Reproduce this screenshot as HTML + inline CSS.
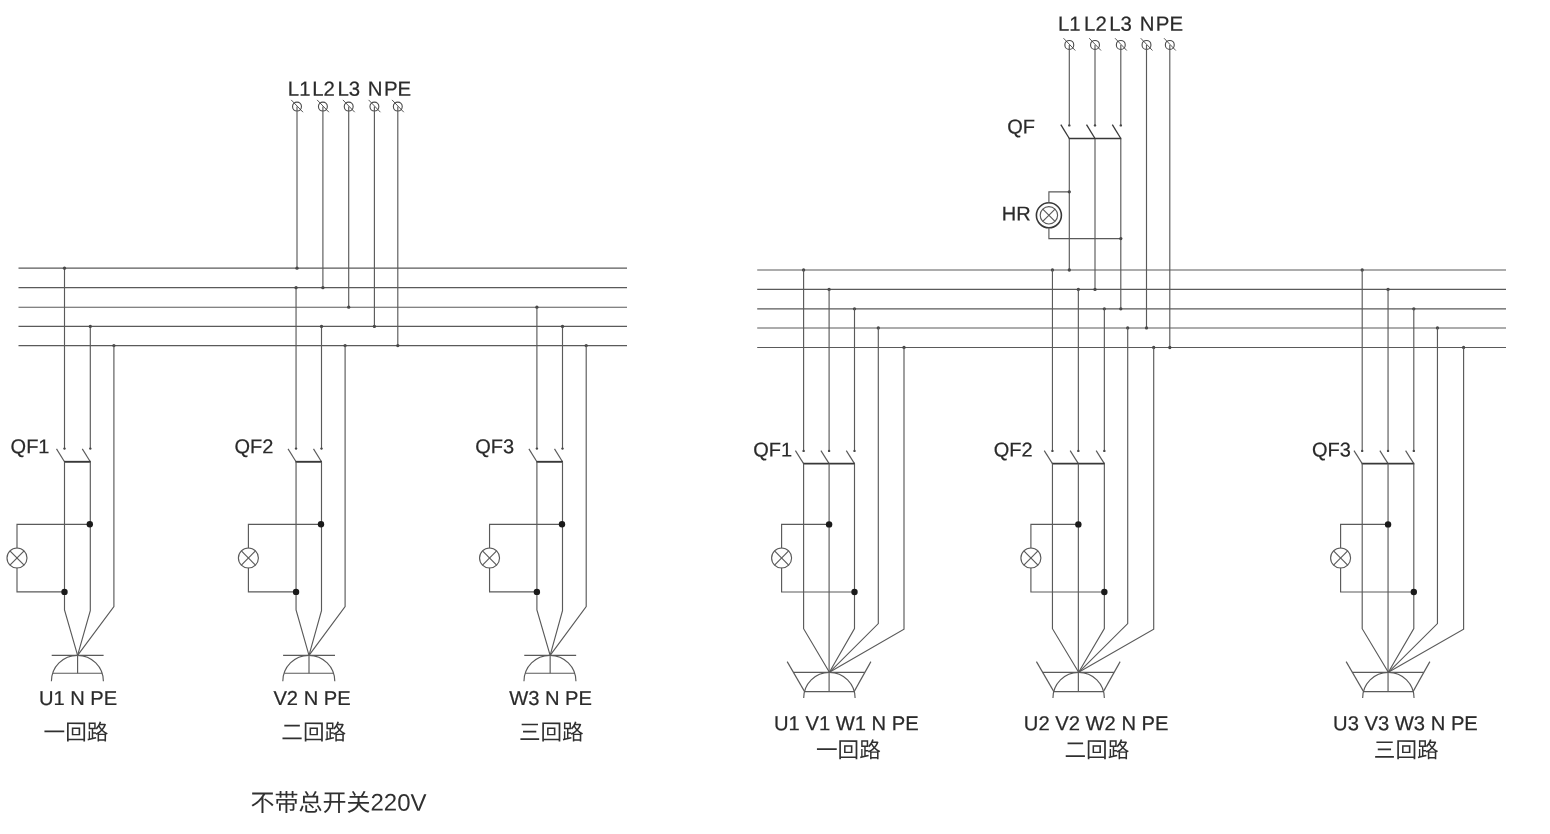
<!DOCTYPE html>
<html lang="zh">
<head>
<meta charset="utf-8">
<title>配电回路接线图</title>
<style>
html,body{margin:0;padding:0;background:#fff;}
body{width:1550px;height:834px;overflow:hidden;font-family:"Liberation Sans","Noto Sans CJK SC",sans-serif;}
svg{display:block;will-change:transform;filter:grayscale(1);}
</style>
</head>
<body>
<svg width="1550" height="834" viewBox="0 0 1550 834">
<rect x="0" y="0" width="1550" height="834" fill="#ffffff"/>
<line x1="18.50" y1="268.15" x2="627.00" y2="268.15" stroke="#5a5a5a" stroke-width="1.15"/>
<line x1="18.50" y1="287.65" x2="627.00" y2="287.65" stroke="#5a5a5a" stroke-width="1.15"/>
<line x1="18.50" y1="307.20" x2="627.00" y2="307.20" stroke="#5a5a5a" stroke-width="1.15"/>
<line x1="18.50" y1="326.40" x2="627.00" y2="326.40" stroke="#5a5a5a" stroke-width="1.15"/>
<line x1="18.50" y1="345.60" x2="627.00" y2="345.60" stroke="#5a5a5a" stroke-width="1.15"/>
<circle cx="297.00" cy="106.60" r="4.45" fill="none" stroke="#4a4a4a" stroke-width="1.1"/>
<line x1="291.20" y1="99.90" x2="303.00" y2="112.20" stroke="#3a3a3a" stroke-width="0.85"/>
<line x1="297.00" y1="106.60" x2="297.00" y2="268.15" stroke="#5a5a5a" stroke-width="1.15"/>
<circle cx="297.00" cy="268.15" r="1.65" fill="#484848"/>
<circle cx="322.90" cy="106.60" r="4.45" fill="none" stroke="#4a4a4a" stroke-width="1.1"/>
<line x1="317.10" y1="99.90" x2="328.90" y2="112.20" stroke="#3a3a3a" stroke-width="0.85"/>
<line x1="322.90" y1="106.60" x2="322.90" y2="287.65" stroke="#5a5a5a" stroke-width="1.15"/>
<circle cx="322.90" cy="287.65" r="1.65" fill="#484848"/>
<circle cx="348.70" cy="106.60" r="4.45" fill="none" stroke="#4a4a4a" stroke-width="1.1"/>
<line x1="342.90" y1="99.90" x2="354.70" y2="112.20" stroke="#3a3a3a" stroke-width="0.85"/>
<line x1="348.70" y1="106.60" x2="348.70" y2="307.20" stroke="#5a5a5a" stroke-width="1.15"/>
<circle cx="348.70" cy="307.20" r="1.65" fill="#484848"/>
<circle cx="374.40" cy="106.60" r="4.45" fill="none" stroke="#4a4a4a" stroke-width="1.1"/>
<line x1="368.60" y1="99.90" x2="380.40" y2="112.20" stroke="#3a3a3a" stroke-width="0.85"/>
<line x1="374.40" y1="106.60" x2="374.40" y2="326.40" stroke="#5a5a5a" stroke-width="1.15"/>
<circle cx="374.40" cy="326.40" r="1.65" fill="#484848"/>
<circle cx="397.80" cy="106.60" r="4.45" fill="none" stroke="#4a4a4a" stroke-width="1.1"/>
<line x1="392.00" y1="99.90" x2="403.80" y2="112.20" stroke="#3a3a3a" stroke-width="0.85"/>
<line x1="397.80" y1="106.60" x2="397.80" y2="345.60" stroke="#5a5a5a" stroke-width="1.15"/>
<circle cx="397.80" cy="345.60" r="1.65" fill="#484848"/>
<text transform="rotate(0.03 307.8 95.75)" x="287.80" y="95.75" font-size="20.4" text-anchor="start" fill="#2a2a2a" stroke="#2a2a2a" stroke-width="0.22" font-family="&quot;Liberation Sans&quot;, &quot;Noto Sans CJK SC&quot;, sans-serif">L1</text>
<text transform="rotate(0.03 332.2 95.75)" x="312.20" y="95.75" font-size="20.4" text-anchor="start" fill="#2a2a2a" stroke="#2a2a2a" stroke-width="0.22" font-family="&quot;Liberation Sans&quot;, &quot;Noto Sans CJK SC&quot;, sans-serif">L2</text>
<text transform="rotate(0.03 357.5 95.75)" x="337.50" y="95.75" font-size="20.4" text-anchor="start" fill="#2a2a2a" stroke="#2a2a2a" stroke-width="0.22" font-family="&quot;Liberation Sans&quot;, &quot;Noto Sans CJK SC&quot;, sans-serif">L3</text>
<text transform="rotate(0.03 387.7 95.75)" x="367.70" y="95.75" font-size="20.4" text-anchor="start" fill="#2a2a2a" stroke="#2a2a2a" stroke-width="0.22" font-family="&quot;Liberation Sans&quot;, &quot;Noto Sans CJK SC&quot;, sans-serif">N</text>
<text transform="rotate(0.03 403.9 95.75)" x="383.90" y="95.75" font-size="20.4" text-anchor="start" fill="#2a2a2a" stroke="#2a2a2a" stroke-width="0.22" font-family="&quot;Liberation Sans&quot;, &quot;Noto Sans CJK SC&quot;, sans-serif">PE</text>
<line x1="64.50" y1="268.15" x2="64.50" y2="449.10" stroke="#5a5a5a" stroke-width="1.15"/>
<circle cx="64.50" cy="268.15" r="1.65" fill="#484848"/>
<circle cx="64.50" cy="448.60" r="1.2" fill="#484848"/>
<line x1="90.30" y1="326.40" x2="90.30" y2="449.10" stroke="#5a5a5a" stroke-width="1.15"/>
<circle cx="90.30" cy="326.40" r="1.65" fill="#484848"/>
<circle cx="90.30" cy="448.60" r="1.2" fill="#484848"/>
<circle cx="113.90" cy="345.60" r="1.65" fill="#484848"/>
<polyline points="113.90,345.60 113.90,606.50 77.60,655.30" fill="none" stroke="#5a5a5a" stroke-width="1.15" stroke-linejoin="miter"/>
<line x1="56.50" y1="448.90" x2="64.50" y2="461.80" stroke="#5a5a5a" stroke-width="1.15"/>
<line x1="82.30" y1="448.90" x2="90.30" y2="461.80" stroke="#5a5a5a" stroke-width="1.15"/>
<line x1="64.00" y1="461.80" x2="90.80" y2="461.80" stroke="#383838" stroke-width="1.9"/>
<polyline points="64.50,461.80 64.50,609.90 77.60,655.30" fill="none" stroke="#5a5a5a" stroke-width="1.15" stroke-linejoin="miter"/>
<polyline points="90.30,461.80 90.30,610.60 77.60,655.30" fill="none" stroke="#5a5a5a" stroke-width="1.15" stroke-linejoin="miter"/>
<circle cx="17.00" cy="558.00" r="10.0" fill="none" stroke="#5a5a5a" stroke-width="1.15"/>
<line x1="9.93" y1="550.93" x2="24.07" y2="565.07" stroke="#5a5a5a" stroke-width="1.15"/>
<line x1="9.93" y1="565.07" x2="24.07" y2="550.93" stroke="#5a5a5a" stroke-width="1.15"/>
<polyline points="17.00,548.20 17.00,524.30 90.30,524.30" fill="none" stroke="#5a5a5a" stroke-width="1.15" stroke-linejoin="miter"/>
<polyline points="17.00,567.80 17.00,591.90 64.50,591.90" fill="none" stroke="#5a5a5a" stroke-width="1.15" stroke-linejoin="miter"/>
<circle cx="89.80" cy="524.30" r="3.2" fill="#1a1a1a"/>
<circle cx="64.50" cy="591.90" r="3.2" fill="#1a1a1a"/>
<line x1="51.70" y1="655.30" x2="103.60" y2="655.30" stroke="#5a5a5a" stroke-width="1.15"/>
<path d="M51.40,681.30 A26.0,26.0 0 0 1 103.40,681.30" fill="none" stroke="#5a5a5a" stroke-width="1.15"/>
<line x1="52.89" y1="673.20" x2="102.31" y2="673.20" stroke="#5a5a5a" stroke-width="1.15"/>
<line x1="77.60" y1="655.30" x2="77.60" y2="673.20" stroke="#5a5a5a" stroke-width="1.15"/>
<text transform="rotate(0.03 30.6 453.30)" x="10.60" y="453.30" font-size="20" text-anchor="start" fill="#2a2a2a" stroke="#2a2a2a" stroke-width="0.22" font-family="&quot;Liberation Sans&quot;, &quot;Noto Sans CJK SC&quot;, sans-serif">QF1</text>
<text transform="rotate(0.03 58.9 704.90)" x="38.90" y="704.90" font-size="20.15" text-anchor="start" fill="#2a2a2a" stroke="#2a2a2a" stroke-width="0.22" font-family="&quot;Liberation Sans&quot;, &quot;Noto Sans CJK SC&quot;, sans-serif">U1 N PE</text>
<text transform="translate(76.00 739.80) rotate(0.03) scale(1 1.0)" x="0" y="0" font-size="21.6" text-anchor="middle" fill="#303030" font-family="&quot;Liberation Sans&quot;, &quot;Noto Sans CJK SC&quot;, sans-serif">一回路</text>
<line x1="296.05" y1="287.65" x2="296.05" y2="449.10" stroke="#5a5a5a" stroke-width="1.15"/>
<circle cx="296.05" cy="287.65" r="1.65" fill="#484848"/>
<circle cx="296.05" cy="448.60" r="1.2" fill="#484848"/>
<line x1="321.50" y1="326.40" x2="321.50" y2="449.10" stroke="#5a5a5a" stroke-width="1.15"/>
<circle cx="321.50" cy="326.40" r="1.65" fill="#484848"/>
<circle cx="321.50" cy="448.60" r="1.2" fill="#484848"/>
<circle cx="345.10" cy="345.60" r="1.65" fill="#484848"/>
<polyline points="345.10,345.60 345.10,606.50 309.00,655.30" fill="none" stroke="#5a5a5a" stroke-width="1.15" stroke-linejoin="miter"/>
<line x1="288.05" y1="448.90" x2="296.05" y2="461.80" stroke="#5a5a5a" stroke-width="1.15"/>
<line x1="313.50" y1="448.90" x2="321.50" y2="461.80" stroke="#5a5a5a" stroke-width="1.15"/>
<line x1="295.55" y1="461.80" x2="322.00" y2="461.80" stroke="#383838" stroke-width="1.9"/>
<polyline points="296.05,461.80 296.05,609.90 309.00,655.30" fill="none" stroke="#5a5a5a" stroke-width="1.15" stroke-linejoin="miter"/>
<polyline points="321.50,461.80 321.50,610.60 309.00,655.30" fill="none" stroke="#5a5a5a" stroke-width="1.15" stroke-linejoin="miter"/>
<circle cx="248.40" cy="558.00" r="10.0" fill="none" stroke="#5a5a5a" stroke-width="1.15"/>
<line x1="241.33" y1="550.93" x2="255.47" y2="565.07" stroke="#5a5a5a" stroke-width="1.15"/>
<line x1="241.33" y1="565.07" x2="255.47" y2="550.93" stroke="#5a5a5a" stroke-width="1.15"/>
<polyline points="248.40,548.20 248.40,524.30 321.50,524.30" fill="none" stroke="#5a5a5a" stroke-width="1.15" stroke-linejoin="miter"/>
<polyline points="248.40,567.80 248.40,591.90 296.05,591.90" fill="none" stroke="#5a5a5a" stroke-width="1.15" stroke-linejoin="miter"/>
<circle cx="321.00" cy="524.30" r="3.2" fill="#1a1a1a"/>
<circle cx="296.05" cy="591.90" r="3.2" fill="#1a1a1a"/>
<line x1="283.10" y1="655.30" x2="335.00" y2="655.30" stroke="#5a5a5a" stroke-width="1.15"/>
<path d="M282.80,681.30 A26.0,26.0 0 0 1 334.80,681.30" fill="none" stroke="#5a5a5a" stroke-width="1.15"/>
<line x1="284.29" y1="673.20" x2="333.71" y2="673.20" stroke="#5a5a5a" stroke-width="1.15"/>
<line x1="309.00" y1="655.30" x2="309.00" y2="673.20" stroke="#5a5a5a" stroke-width="1.15"/>
<text transform="rotate(0.03 254.4 453.30)" x="234.40" y="453.30" font-size="20" text-anchor="start" fill="#2a2a2a" stroke="#2a2a2a" stroke-width="0.22" font-family="&quot;Liberation Sans&quot;, &quot;Noto Sans CJK SC&quot;, sans-serif">QF2</text>
<text transform="rotate(0.03 293.4 704.90)" x="273.45" y="704.90" font-size="20.15" text-anchor="start" fill="#2a2a2a" stroke="#2a2a2a" stroke-width="0.22" font-family="&quot;Liberation Sans&quot;, &quot;Noto Sans CJK SC&quot;, sans-serif">V2 N PE</text>
<text transform="translate(313.70 739.80) rotate(0.03) scale(1 1.0)" x="0" y="0" font-size="21.6" text-anchor="middle" fill="#303030" font-family="&quot;Liberation Sans&quot;, &quot;Noto Sans CJK SC&quot;, sans-serif">二回路</text>
<line x1="536.90" y1="307.20" x2="536.90" y2="449.10" stroke="#5a5a5a" stroke-width="1.15"/>
<circle cx="536.90" cy="307.20" r="1.65" fill="#484848"/>
<circle cx="536.90" cy="448.60" r="1.2" fill="#484848"/>
<line x1="562.50" y1="326.40" x2="562.50" y2="449.10" stroke="#5a5a5a" stroke-width="1.15"/>
<circle cx="562.50" cy="326.40" r="1.65" fill="#484848"/>
<circle cx="562.50" cy="448.60" r="1.2" fill="#484848"/>
<circle cx="586.20" cy="345.60" r="1.65" fill="#484848"/>
<polyline points="586.20,345.60 586.20,606.50 550.15,655.30" fill="none" stroke="#5a5a5a" stroke-width="1.15" stroke-linejoin="miter"/>
<line x1="528.90" y1="448.90" x2="536.90" y2="461.80" stroke="#5a5a5a" stroke-width="1.15"/>
<line x1="554.50" y1="448.90" x2="562.50" y2="461.80" stroke="#5a5a5a" stroke-width="1.15"/>
<line x1="536.40" y1="461.80" x2="563.00" y2="461.80" stroke="#383838" stroke-width="1.9"/>
<polyline points="536.90,461.80 536.90,609.90 550.15,655.30" fill="none" stroke="#5a5a5a" stroke-width="1.15" stroke-linejoin="miter"/>
<polyline points="562.50,461.80 562.50,610.60 550.15,655.30" fill="none" stroke="#5a5a5a" stroke-width="1.15" stroke-linejoin="miter"/>
<circle cx="489.55" cy="558.00" r="10.0" fill="none" stroke="#5a5a5a" stroke-width="1.15"/>
<line x1="482.48" y1="550.93" x2="496.62" y2="565.07" stroke="#5a5a5a" stroke-width="1.15"/>
<line x1="482.48" y1="565.07" x2="496.62" y2="550.93" stroke="#5a5a5a" stroke-width="1.15"/>
<polyline points="489.55,548.20 489.55,524.30 562.50,524.30" fill="none" stroke="#5a5a5a" stroke-width="1.15" stroke-linejoin="miter"/>
<polyline points="489.55,567.80 489.55,591.90 536.90,591.90" fill="none" stroke="#5a5a5a" stroke-width="1.15" stroke-linejoin="miter"/>
<circle cx="562.00" cy="524.30" r="3.2" fill="#1a1a1a"/>
<circle cx="536.90" cy="591.90" r="3.2" fill="#1a1a1a"/>
<line x1="524.25" y1="655.30" x2="576.15" y2="655.30" stroke="#5a5a5a" stroke-width="1.15"/>
<path d="M523.95,681.30 A26.0,26.0 0 0 1 575.95,681.30" fill="none" stroke="#5a5a5a" stroke-width="1.15"/>
<line x1="525.44" y1="673.20" x2="574.86" y2="673.20" stroke="#5a5a5a" stroke-width="1.15"/>
<line x1="550.15" y1="655.30" x2="550.15" y2="673.20" stroke="#5a5a5a" stroke-width="1.15"/>
<text transform="rotate(0.03 495.3 453.30)" x="475.30" y="453.30" font-size="20" text-anchor="start" fill="#2a2a2a" stroke="#2a2a2a" stroke-width="0.22" font-family="&quot;Liberation Sans&quot;, &quot;Noto Sans CJK SC&quot;, sans-serif">QF3</text>
<text transform="rotate(0.03 529.1 704.90)" x="509.15" y="704.90" font-size="20.15" text-anchor="start" fill="#2a2a2a" stroke="#2a2a2a" stroke-width="0.22" font-family="&quot;Liberation Sans&quot;, &quot;Noto Sans CJK SC&quot;, sans-serif">W3 N PE</text>
<text transform="translate(551.30 739.80) rotate(0.03) scale(1 1.0)" x="0" y="0" font-size="21.6" text-anchor="middle" fill="#303030" font-family="&quot;Liberation Sans&quot;, &quot;Noto Sans CJK SC&quot;, sans-serif">三回路</text>
<text transform="translate(338.50 810.60) rotate(0.03) scale(1 1.0)" x="0" y="0" font-size="24" text-anchor="middle" fill="#303030" font-family="&quot;Liberation Sans&quot;, &quot;Noto Sans CJK SC&quot;, sans-serif"><tspan dy="0.5">不带总开关</tspan><tspan dy="-0.5">220V</tspan></text>
<line x1="757.20" y1="270.00" x2="1506.00" y2="270.00" stroke="#5a5a5a" stroke-width="1.15"/>
<line x1="757.20" y1="289.40" x2="1506.00" y2="289.40" stroke="#5a5a5a" stroke-width="1.15"/>
<line x1="757.20" y1="308.80" x2="1506.00" y2="308.80" stroke="#5a5a5a" stroke-width="1.15"/>
<line x1="757.20" y1="327.95" x2="1506.00" y2="327.95" stroke="#5a5a5a" stroke-width="1.15"/>
<line x1="757.20" y1="347.50" x2="1506.00" y2="347.50" stroke="#5a5a5a" stroke-width="1.15"/>
<circle cx="1069.30" cy="44.90" r="4.45" fill="none" stroke="#4a4a4a" stroke-width="1.1"/>
<line x1="1063.50" y1="38.20" x2="1075.30" y2="50.50" stroke="#3a3a3a" stroke-width="0.85"/>
<line x1="1069.30" y1="44.90" x2="1069.30" y2="125.90" stroke="#5a5a5a" stroke-width="1.15"/>
<circle cx="1069.30" cy="125.40" r="1.2" fill="#484848"/>
<line x1="1060.80" y1="124.60" x2="1069.30" y2="138.50" stroke="#383838" stroke-width="1.3"/>
<line x1="1069.30" y1="138.50" x2="1069.30" y2="270.00" stroke="#5a5a5a" stroke-width="1.15"/>
<circle cx="1069.30" cy="270.00" r="1.65" fill="#484848"/>
<circle cx="1095.00" cy="44.90" r="4.45" fill="none" stroke="#4a4a4a" stroke-width="1.1"/>
<line x1="1089.20" y1="38.20" x2="1101.00" y2="50.50" stroke="#3a3a3a" stroke-width="0.85"/>
<line x1="1095.00" y1="44.90" x2="1095.00" y2="125.90" stroke="#5a5a5a" stroke-width="1.15"/>
<circle cx="1095.00" cy="125.40" r="1.2" fill="#484848"/>
<line x1="1086.50" y1="124.60" x2="1095.00" y2="138.50" stroke="#383838" stroke-width="1.3"/>
<line x1="1095.00" y1="138.50" x2="1095.00" y2="289.40" stroke="#5a5a5a" stroke-width="1.15"/>
<circle cx="1095.00" cy="289.40" r="1.65" fill="#484848"/>
<circle cx="1120.80" cy="44.90" r="4.45" fill="none" stroke="#4a4a4a" stroke-width="1.1"/>
<line x1="1115.00" y1="38.20" x2="1126.80" y2="50.50" stroke="#3a3a3a" stroke-width="0.85"/>
<line x1="1120.80" y1="44.90" x2="1120.80" y2="125.90" stroke="#5a5a5a" stroke-width="1.15"/>
<circle cx="1120.80" cy="125.40" r="1.2" fill="#484848"/>
<line x1="1112.30" y1="124.60" x2="1120.80" y2="138.50" stroke="#383838" stroke-width="1.3"/>
<line x1="1120.80" y1="138.50" x2="1120.80" y2="308.80" stroke="#5a5a5a" stroke-width="1.15"/>
<circle cx="1120.80" cy="308.80" r="1.65" fill="#484848"/>
<circle cx="1146.50" cy="44.90" r="4.45" fill="none" stroke="#4a4a4a" stroke-width="1.1"/>
<line x1="1140.70" y1="38.20" x2="1152.50" y2="50.50" stroke="#3a3a3a" stroke-width="0.85"/>
<line x1="1146.50" y1="44.90" x2="1146.50" y2="327.95" stroke="#5a5a5a" stroke-width="1.15"/>
<circle cx="1146.50" cy="327.95" r="1.65" fill="#484848"/>
<circle cx="1169.80" cy="44.90" r="4.45" fill="none" stroke="#4a4a4a" stroke-width="1.1"/>
<line x1="1164.00" y1="38.20" x2="1175.80" y2="50.50" stroke="#3a3a3a" stroke-width="0.85"/>
<line x1="1169.80" y1="44.90" x2="1169.80" y2="347.50" stroke="#5a5a5a" stroke-width="1.15"/>
<circle cx="1169.80" cy="347.50" r="1.65" fill="#484848"/>
<line x1="1068.80" y1="138.50" x2="1121.30" y2="138.50" stroke="#383838" stroke-width="1.3"/>
<text transform="rotate(0.03 1078.0 30.70)" x="1057.95" y="30.70" font-size="20.4" text-anchor="start" fill="#2a2a2a" stroke="#2a2a2a" stroke-width="0.22" font-family="&quot;Liberation Sans&quot;, &quot;Noto Sans CJK SC&quot;, sans-serif">L1</text>
<text transform="rotate(0.03 1104.0 30.70)" x="1084.05" y="30.70" font-size="20.4" text-anchor="start" fill="#2a2a2a" stroke="#2a2a2a" stroke-width="0.22" font-family="&quot;Liberation Sans&quot;, &quot;Noto Sans CJK SC&quot;, sans-serif">L2</text>
<text transform="rotate(0.03 1129.2 30.70)" x="1109.15" y="30.70" font-size="20.4" text-anchor="start" fill="#2a2a2a" stroke="#2a2a2a" stroke-width="0.22" font-family="&quot;Liberation Sans&quot;, &quot;Noto Sans CJK SC&quot;, sans-serif">L3</text>
<text transform="rotate(0.03 1159.8 30.70)" x="1139.75" y="30.70" font-size="20.4" text-anchor="start" fill="#2a2a2a" stroke="#2a2a2a" stroke-width="0.22" font-family="&quot;Liberation Sans&quot;, &quot;Noto Sans CJK SC&quot;, sans-serif">N</text>
<text transform="rotate(0.03 1175.8 30.70)" x="1155.85" y="30.70" font-size="20.4" text-anchor="start" fill="#2a2a2a" stroke="#2a2a2a" stroke-width="0.22" font-family="&quot;Liberation Sans&quot;, &quot;Noto Sans CJK SC&quot;, sans-serif">PE</text>
<text transform="rotate(0.03 1027.2 133.60)" x="1007.20" y="133.60" font-size="20" text-anchor="start" fill="#2a2a2a" stroke="#2a2a2a" stroke-width="0.22" font-family="&quot;Liberation Sans&quot;, &quot;Noto Sans CJK SC&quot;, sans-serif">QF</text>
<text transform="rotate(0.03 1021.7 220.60)" x="1001.70" y="220.60" font-size="20" text-anchor="start" fill="#2a2a2a" stroke="#2a2a2a" stroke-width="0.22" font-family="&quot;Liberation Sans&quot;, &quot;Noto Sans CJK SC&quot;, sans-serif">HR</text>
<circle cx="1048.90" cy="215.30" r="12.5" fill="none" stroke="#383838" stroke-width="1.6"/>
<circle cx="1048.90" cy="215.30" r="8.7" fill="none" stroke="#5a5a5a" stroke-width="1.15"/>
<line x1="1042.75" y1="209.15" x2="1055.05" y2="221.45" stroke="#5a5a5a" stroke-width="1.15"/>
<line x1="1042.75" y1="221.45" x2="1055.05" y2="209.15" stroke="#5a5a5a" stroke-width="1.15"/>
<polyline points="1048.90,203.00 1048.90,191.80 1069.30,191.80" fill="none" stroke="#5a5a5a" stroke-width="1.15" stroke-linejoin="miter"/>
<circle cx="1069.30" cy="191.80" r="1.65" fill="#484848"/>
<polyline points="1048.90,227.60 1048.90,238.60 1120.80,238.60" fill="none" stroke="#5a5a5a" stroke-width="1.15" stroke-linejoin="miter"/>
<circle cx="1120.80" cy="238.60" r="1.65" fill="#484848"/>
<circle cx="803.60" cy="270.00" r="1.65" fill="#484848"/>
<circle cx="829.10" cy="289.40" r="1.65" fill="#484848"/>
<circle cx="854.50" cy="308.80" r="1.65" fill="#484848"/>
<circle cx="878.30" cy="327.95" r="1.65" fill="#484848"/>
<circle cx="904.00" cy="347.50" r="1.65" fill="#484848"/>
<line x1="803.60" y1="270.00" x2="803.60" y2="451.40" stroke="#5a5a5a" stroke-width="1.15"/>
<circle cx="803.60" cy="450.90" r="1.2" fill="#484848"/>
<line x1="795.40" y1="450.60" x2="803.60" y2="463.60" stroke="#5a5a5a" stroke-width="1.15"/>
<line x1="829.10" y1="289.40" x2="829.10" y2="451.40" stroke="#5a5a5a" stroke-width="1.15"/>
<circle cx="829.10" cy="450.90" r="1.2" fill="#484848"/>
<line x1="820.90" y1="450.60" x2="829.10" y2="463.60" stroke="#5a5a5a" stroke-width="1.15"/>
<line x1="854.50" y1="308.80" x2="854.50" y2="451.40" stroke="#5a5a5a" stroke-width="1.15"/>
<circle cx="854.50" cy="450.90" r="1.2" fill="#484848"/>
<line x1="846.30" y1="450.60" x2="854.50" y2="463.60" stroke="#5a5a5a" stroke-width="1.15"/>
<line x1="803.10" y1="463.60" x2="855.00" y2="463.60" stroke="#383838" stroke-width="1.9"/>
<polyline points="803.60,463.60 803.60,628.70 829.40,672.30" fill="none" stroke="#5a5a5a" stroke-width="1.15" stroke-linejoin="miter"/>
<line x1="829.10" y1="463.60" x2="829.10" y2="691.60" stroke="#5a5a5a" stroke-width="1.15"/>
<polyline points="854.50,463.60 854.50,628.50 829.40,672.30" fill="none" stroke="#5a5a5a" stroke-width="1.15" stroke-linejoin="miter"/>
<polyline points="878.30,327.95 878.30,623.60 829.40,672.30" fill="none" stroke="#5a5a5a" stroke-width="1.15" stroke-linejoin="miter"/>
<polyline points="904.00,347.50 904.00,629.20 829.40,672.30" fill="none" stroke="#5a5a5a" stroke-width="1.15" stroke-linejoin="miter"/>
<circle cx="781.60" cy="558.00" r="10.0" fill="none" stroke="#5a5a5a" stroke-width="1.15"/>
<line x1="774.53" y1="550.93" x2="788.67" y2="565.07" stroke="#5a5a5a" stroke-width="1.15"/>
<line x1="774.53" y1="565.07" x2="788.67" y2="550.93" stroke="#5a5a5a" stroke-width="1.15"/>
<polyline points="781.60,548.20 781.60,524.40 829.10,524.40" fill="none" stroke="#5a5a5a" stroke-width="1.15" stroke-linejoin="miter"/>
<polyline points="781.60,567.80 781.60,592.00 854.50,592.00" fill="none" stroke="#5a5a5a" stroke-width="1.15" stroke-linejoin="miter"/>
<circle cx="829.10" cy="524.40" r="3.2" fill="#1a1a1a"/>
<circle cx="854.50" cy="592.00" r="3.2" fill="#1a1a1a"/>
<line x1="793.40" y1="672.30" x2="864.70" y2="672.30" stroke="#5a5a5a" stroke-width="1.15"/>
<path d="M803.70,698.00 A25.7,25.7 0 0 1 855.10,698.00" fill="none" stroke="#5a5a5a" stroke-width="1.15"/>
<line x1="804.51" y1="691.60" x2="854.29" y2="691.60" stroke="#5a5a5a" stroke-width="1.15"/>
<line x1="787.20" y1="661.60" x2="804.60" y2="691.60" stroke="#5a5a5a" stroke-width="1.15"/>
<line x1="870.90" y1="661.60" x2="854.10" y2="691.60" stroke="#5a5a5a" stroke-width="1.15"/>
<text transform="rotate(0.03 773.2 456.60)" x="753.20" y="456.60" font-size="20" text-anchor="start" fill="#2a2a2a" stroke="#2a2a2a" stroke-width="0.22" font-family="&quot;Liberation Sans&quot;, &quot;Noto Sans CJK SC&quot;, sans-serif">QF1</text>
<text transform="rotate(0.03 794.0 730.20)" x="774.00" y="730.20" font-size="20.2" text-anchor="start" fill="#2a2a2a" stroke="#2a2a2a" stroke-width="0.22" font-family="&quot;Liberation Sans&quot;, &quot;Noto Sans CJK SC&quot;, sans-serif">U1 V1 W1 N PE</text>
<text transform="translate(848.40 757.50) rotate(0.03) scale(1 1.0)" x="0" y="0" font-size="21.6" text-anchor="middle" fill="#303030" font-family="&quot;Liberation Sans&quot;, &quot;Noto Sans CJK SC&quot;, sans-serif">一回路</text>
<circle cx="1052.45" cy="270.00" r="1.65" fill="#484848"/>
<circle cx="1078.35" cy="289.40" r="1.65" fill="#484848"/>
<circle cx="1104.35" cy="308.80" r="1.65" fill="#484848"/>
<circle cx="1127.70" cy="327.95" r="1.65" fill="#484848"/>
<circle cx="1153.70" cy="347.50" r="1.65" fill="#484848"/>
<line x1="1052.45" y1="270.00" x2="1052.45" y2="451.40" stroke="#5a5a5a" stroke-width="1.15"/>
<circle cx="1052.45" cy="450.90" r="1.2" fill="#484848"/>
<line x1="1044.25" y1="450.60" x2="1052.45" y2="463.60" stroke="#5a5a5a" stroke-width="1.15"/>
<line x1="1078.35" y1="289.40" x2="1078.35" y2="451.40" stroke="#5a5a5a" stroke-width="1.15"/>
<circle cx="1078.35" cy="450.90" r="1.2" fill="#484848"/>
<line x1="1070.15" y1="450.60" x2="1078.35" y2="463.60" stroke="#5a5a5a" stroke-width="1.15"/>
<line x1="1104.35" y1="308.80" x2="1104.35" y2="451.40" stroke="#5a5a5a" stroke-width="1.15"/>
<circle cx="1104.35" cy="450.90" r="1.2" fill="#484848"/>
<line x1="1096.15" y1="450.60" x2="1104.35" y2="463.60" stroke="#5a5a5a" stroke-width="1.15"/>
<line x1="1051.95" y1="463.60" x2="1104.85" y2="463.60" stroke="#383838" stroke-width="1.9"/>
<polyline points="1052.45,463.60 1052.45,628.70 1078.65,672.30" fill="none" stroke="#5a5a5a" stroke-width="1.15" stroke-linejoin="miter"/>
<line x1="1078.35" y1="463.60" x2="1078.35" y2="691.60" stroke="#5a5a5a" stroke-width="1.15"/>
<polyline points="1104.35,463.60 1104.35,628.50 1078.65,672.30" fill="none" stroke="#5a5a5a" stroke-width="1.15" stroke-linejoin="miter"/>
<polyline points="1127.70,327.95 1127.70,623.60 1078.65,672.30" fill="none" stroke="#5a5a5a" stroke-width="1.15" stroke-linejoin="miter"/>
<polyline points="1153.70,347.50 1153.70,629.20 1078.65,672.30" fill="none" stroke="#5a5a5a" stroke-width="1.15" stroke-linejoin="miter"/>
<circle cx="1030.90" cy="558.00" r="10.0" fill="none" stroke="#5a5a5a" stroke-width="1.15"/>
<line x1="1023.83" y1="550.93" x2="1037.97" y2="565.07" stroke="#5a5a5a" stroke-width="1.15"/>
<line x1="1023.83" y1="565.07" x2="1037.97" y2="550.93" stroke="#5a5a5a" stroke-width="1.15"/>
<polyline points="1030.90,548.20 1030.90,524.40 1078.35,524.40" fill="none" stroke="#5a5a5a" stroke-width="1.15" stroke-linejoin="miter"/>
<polyline points="1030.90,567.80 1030.90,592.00 1104.35,592.00" fill="none" stroke="#5a5a5a" stroke-width="1.15" stroke-linejoin="miter"/>
<circle cx="1078.35" cy="524.40" r="3.2" fill="#1a1a1a"/>
<circle cx="1104.35" cy="592.00" r="3.2" fill="#1a1a1a"/>
<line x1="1042.65" y1="672.30" x2="1113.95" y2="672.30" stroke="#5a5a5a" stroke-width="1.15"/>
<path d="M1052.95,698.00 A25.7,25.7 0 0 1 1104.35,698.00" fill="none" stroke="#5a5a5a" stroke-width="1.15"/>
<line x1="1053.76" y1="691.60" x2="1103.54" y2="691.60" stroke="#5a5a5a" stroke-width="1.15"/>
<line x1="1036.45" y1="661.60" x2="1053.85" y2="691.60" stroke="#5a5a5a" stroke-width="1.15"/>
<line x1="1120.15" y1="661.60" x2="1103.35" y2="691.60" stroke="#5a5a5a" stroke-width="1.15"/>
<text transform="rotate(0.03 1013.8 456.60)" x="993.80" y="456.60" font-size="20" text-anchor="start" fill="#2a2a2a" stroke="#2a2a2a" stroke-width="0.22" font-family="&quot;Liberation Sans&quot;, &quot;Noto Sans CJK SC&quot;, sans-serif">QF2</text>
<text transform="rotate(0.03 1043.8 730.20)" x="1023.80" y="730.20" font-size="20.2" text-anchor="start" fill="#2a2a2a" stroke="#2a2a2a" stroke-width="0.22" font-family="&quot;Liberation Sans&quot;, &quot;Noto Sans CJK SC&quot;, sans-serif">U2 V2 W2 N PE</text>
<text transform="translate(1096.90 757.50) rotate(0.03) scale(1 1.0)" x="0" y="0" font-size="21.6" text-anchor="middle" fill="#303030" font-family="&quot;Liberation Sans&quot;, &quot;Noto Sans CJK SC&quot;, sans-serif">二回路</text>
<circle cx="1362.20" cy="270.00" r="1.65" fill="#484848"/>
<circle cx="1388.05" cy="289.40" r="1.65" fill="#484848"/>
<circle cx="1413.80" cy="308.80" r="1.65" fill="#484848"/>
<circle cx="1437.45" cy="327.95" r="1.65" fill="#484848"/>
<circle cx="1463.60" cy="347.50" r="1.65" fill="#484848"/>
<line x1="1362.20" y1="270.00" x2="1362.20" y2="451.40" stroke="#5a5a5a" stroke-width="1.15"/>
<circle cx="1362.20" cy="450.90" r="1.2" fill="#484848"/>
<line x1="1354.00" y1="450.60" x2="1362.20" y2="463.60" stroke="#5a5a5a" stroke-width="1.15"/>
<line x1="1388.05" y1="289.40" x2="1388.05" y2="451.40" stroke="#5a5a5a" stroke-width="1.15"/>
<circle cx="1388.05" cy="450.90" r="1.2" fill="#484848"/>
<line x1="1379.85" y1="450.60" x2="1388.05" y2="463.60" stroke="#5a5a5a" stroke-width="1.15"/>
<line x1="1413.80" y1="308.80" x2="1413.80" y2="451.40" stroke="#5a5a5a" stroke-width="1.15"/>
<circle cx="1413.80" cy="450.90" r="1.2" fill="#484848"/>
<line x1="1405.60" y1="450.60" x2="1413.80" y2="463.60" stroke="#5a5a5a" stroke-width="1.15"/>
<line x1="1361.70" y1="463.60" x2="1414.30" y2="463.60" stroke="#383838" stroke-width="1.9"/>
<polyline points="1362.20,463.60 1362.20,628.70 1388.35,672.30" fill="none" stroke="#5a5a5a" stroke-width="1.15" stroke-linejoin="miter"/>
<line x1="1388.05" y1="463.60" x2="1388.05" y2="691.60" stroke="#5a5a5a" stroke-width="1.15"/>
<polyline points="1413.80,463.60 1413.80,628.50 1388.35,672.30" fill="none" stroke="#5a5a5a" stroke-width="1.15" stroke-linejoin="miter"/>
<polyline points="1437.45,327.95 1437.45,623.60 1388.35,672.30" fill="none" stroke="#5a5a5a" stroke-width="1.15" stroke-linejoin="miter"/>
<polyline points="1463.60,347.50 1463.60,629.20 1388.35,672.30" fill="none" stroke="#5a5a5a" stroke-width="1.15" stroke-linejoin="miter"/>
<circle cx="1340.60" cy="558.00" r="10.0" fill="none" stroke="#5a5a5a" stroke-width="1.15"/>
<line x1="1333.53" y1="550.93" x2="1347.67" y2="565.07" stroke="#5a5a5a" stroke-width="1.15"/>
<line x1="1333.53" y1="565.07" x2="1347.67" y2="550.93" stroke="#5a5a5a" stroke-width="1.15"/>
<polyline points="1340.60,548.20 1340.60,524.40 1388.05,524.40" fill="none" stroke="#5a5a5a" stroke-width="1.15" stroke-linejoin="miter"/>
<polyline points="1340.60,567.80 1340.60,592.00 1413.80,592.00" fill="none" stroke="#5a5a5a" stroke-width="1.15" stroke-linejoin="miter"/>
<circle cx="1388.05" cy="524.40" r="3.2" fill="#1a1a1a"/>
<circle cx="1413.80" cy="592.00" r="3.2" fill="#1a1a1a"/>
<line x1="1352.35" y1="672.30" x2="1423.65" y2="672.30" stroke="#5a5a5a" stroke-width="1.15"/>
<path d="M1362.65,698.00 A25.7,25.7 0 0 1 1414.05,698.00" fill="none" stroke="#5a5a5a" stroke-width="1.15"/>
<line x1="1363.46" y1="691.60" x2="1413.24" y2="691.60" stroke="#5a5a5a" stroke-width="1.15"/>
<line x1="1346.15" y1="661.60" x2="1363.55" y2="691.60" stroke="#5a5a5a" stroke-width="1.15"/>
<line x1="1429.85" y1="661.60" x2="1413.05" y2="691.60" stroke="#5a5a5a" stroke-width="1.15"/>
<text transform="rotate(0.03 1332.0 456.60)" x="1312.00" y="456.60" font-size="20" text-anchor="start" fill="#2a2a2a" stroke="#2a2a2a" stroke-width="0.22" font-family="&quot;Liberation Sans&quot;, &quot;Noto Sans CJK SC&quot;, sans-serif">QF3</text>
<text transform="rotate(0.03 1353.1 730.20)" x="1333.10" y="730.20" font-size="20.2" text-anchor="start" fill="#2a2a2a" stroke="#2a2a2a" stroke-width="0.22" font-family="&quot;Liberation Sans&quot;, &quot;Noto Sans CJK SC&quot;, sans-serif">U3 V3 W3 N PE</text>
<text transform="translate(1406.20 757.50) rotate(0.03) scale(1 1.0)" x="0" y="0" font-size="21.6" text-anchor="middle" fill="#303030" font-family="&quot;Liberation Sans&quot;, &quot;Noto Sans CJK SC&quot;, sans-serif">三回路</text>
</svg>
</body>
</html>
